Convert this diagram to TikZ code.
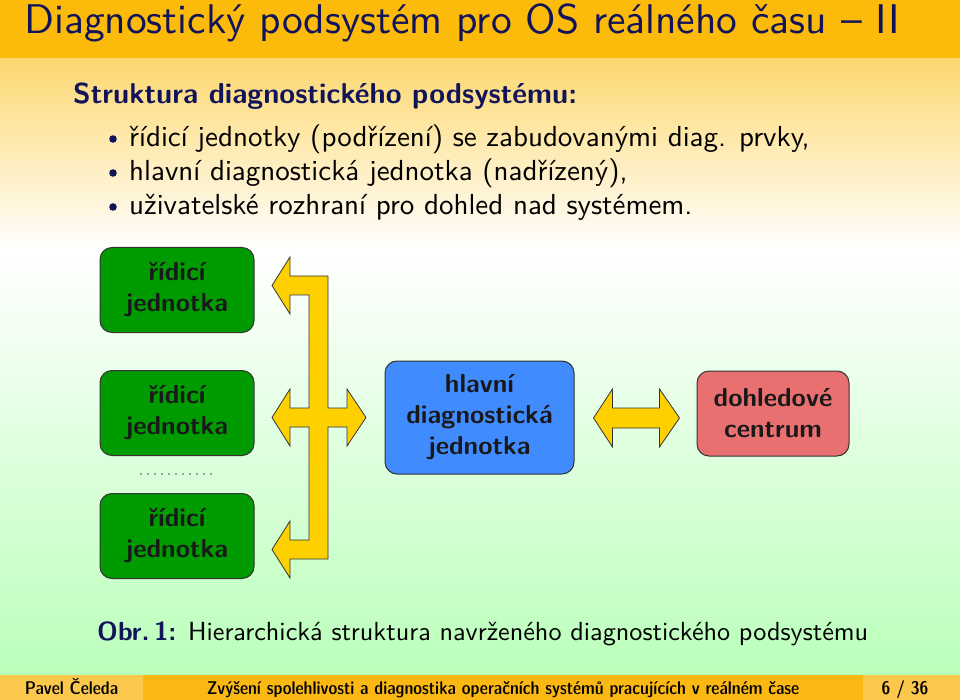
\documentclass[tikz,border=0pt]{standalone}
\usepackage{fontspec}
\setsansfont{lmsans10-regular.otf}[BoldFont=lmsans10-bold.otf]
\newfontfamily\footfont{lmsansdemicond10-regular.otf}
\usetikzlibrary{calc}
\definecolor{titlebar}{RGB}{252,186,10}
\definecolor{bgtop}{RGB}{253,216,112}
\definecolor{bgbot}{RGB}{186,255,186}
\definecolor{footmid}{RGB}{251,184,18}
\definecolor{footside}{RGB}{252,200,76}
\definecolor{navy}{RGB}{18,20,90}
\definecolor{boxgreen}{RGB}{0,155,0}
\definecolor{boxblue}{RGB}{64,140,255}
\definecolor{boxred}{RGB}{232,112,112}
\definecolor{arrowyellow}{RGB}{255,208,0}
\definecolor{boxtext}{RGB}{25,25,25}
\begin{document}
\begin{tikzpicture}[x=1pt,y=-1pt,
  unitbox/.style={draw=black!80, line width=1pt, rounded corners=12pt, fill=boxgreen,
    minimum width=154pt, minimum height=85pt, align=center, text=boxtext,
    font=\sffamily\bfseries\fontsize{26}{31}\selectfont},
  bigarrow/.style={draw=black!80, line width=0.8pt, fill=arrowyellow, line join=miter},
  bodytext/.style={anchor=base west, inner sep=0pt, font=\sffamily\fontsize{29}{34}\selectfont},
  foottext/.style={anchor=base, inner sep=0pt, font=\footfont\fontsize{18.4}{22}\selectfont}]
\useasboundingbox (0,0) rectangle (960,700);
% background
\shade[top color=bgtop, bottom color=white] (0,58) rectangle (960,250);
\shade[top color=white, bottom color=bgbot] (0,250) rectangle (960,675);
\fill[titlebar] (0,0) rectangle (960,58);
\fill[footside] (0,675) rectangle (143,700);
\fill[footmid] (143,675) rectangle (863,700);
\fill[footside] (863,675) rectangle (960,700);
% title
\node[anchor=base west, inner sep=0pt, text=navy, font=\sffamily\fontsize{41.5}{48}\selectfont] (title) at (24,34) {Diagnostický podsystém pro OS reálného času -- II};
\node[anchor=base west, inner sep=0pt, text=navy, font=\sffamily\bfseries\fontsize{28.8}{34}\selectfont] (head) at (73,104) {Struktura diagnostického podsystému:};
\node[bodytext] (b1) at (129,147) {řídicí jednotky (podřízení) se zabudovanými diag. prvky,};
\node[bodytext] (b2) at (129,181) {hlavní diagnostická jednotka (nadřízený),};
\node[bodytext] (b3) at (129,215) {uživatelské rozhraní pro dohled nad systémem.};
\foreach \yy in {147,181,215}{
  \fill[navy] (113,\yy-8) circle (3.8pt);
}
% boxes
\node[unitbox] (u1) at (177,290) {řídicí\\jednotka};
\node[unitbox] (u2) at (177,413) {řídicí\\jednotka};
\node[unitbox] (u3) at (177,536) {řídicí\\jednotka};
\node[unitbox, fill=boxblue, minimum width=189pt, minimum height=113pt] (hdj) at (479.5,417.5) {hlavní\\diagnostická\\jednotka};
\node[unitbox, fill=boxred, minimum width=152pt, minimum height=85pt] (dc) at (773,413.5) {dohledové\\centrum};
% dots
\foreach \i in {0,...,10}{ \fill[black!70] (141+7*\i,474) circle (0.8pt); }
% bus
\draw[bigarrow] (328,276) -- (328,408) -- (347,408) -- (347,389) -- (366,417.5) -- (347,446) -- (347,427) -- (328,427) -- (328,559) -- (290,559) -- (290,578) -- (272,549.5) -- (290,521) -- (290,540) -- (309,540) -- (309,427) -- (290,427) -- (290,446) -- (272,417.5) -- (290,389) -- (290,408) -- (309,408) -- (309,295) -- (290,295) -- (290,314) -- (272,285.5) -- (290,257) -- (290,276) -- cycle;
% double arrow
\draw[bigarrow] ($(hdj.east)+(19,0.5)$) coordinate (dal) -- ++(19,-29) -- ++(0,19) -- ++(47,0) -- ++(0,-19) -- ++(20,29) -- ++(-20,29) -- ++(0,-19) -- ++(-47,0) -- ++(0,19) -- cycle;
% caption
\node[anchor=base west, inner sep=0pt, font=\sffamily\fontsize{26.2}{30}\selectfont] (cap) at (97,640) {\textcolor{navy}{\bfseries Obr.\,1:} Hierarchická struktura navrženého diagnostického podsystému};
% footer
\node[foottext] (fa) at (71.5,694) {Pavel Čeleda};
\node[foottext] (ft) at (503,694) {Zvýšení spolehlivosti a diagnostika operačních systémů pracujících v reálném čase};
\node[foottext] (fp) at (905,694) {6 / 36};
\end{tikzpicture}
\end{document}
